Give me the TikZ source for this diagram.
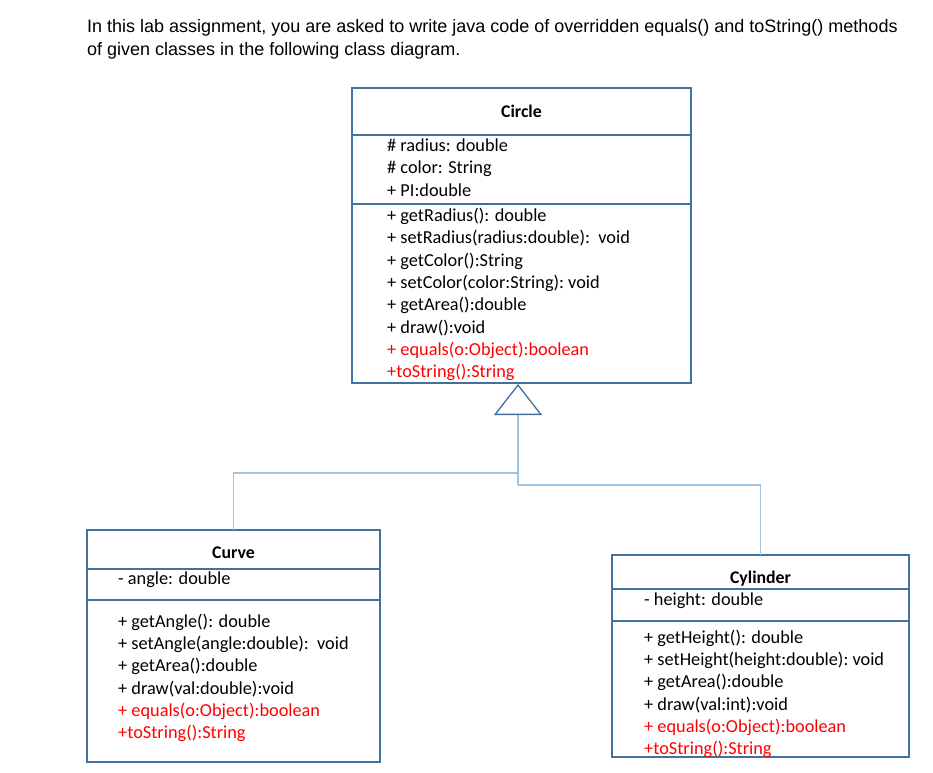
\documentclass[tikz,border=0pt]{standalone}
\usepackage{fontspec}
\setmainfont{Carlito}
\newfontfamily\headfont{Liberation Sans}
\usetikzlibrary{arrows.meta, positioning, calc}
\definecolor{BoxEdge}{HTML}{41719C}
\definecolor{LinkBlue}{HTML}{9DC3E6}
\definecolor{OverRed}{HTML}{FF0000}
\definecolor{TextInk}{HTML}{000000}

\begin{document}
\begin{tikzpicture}[
    x=1pt,
    y=-1pt,
    every node/.style={text=TextInk},
    intro/.style={font=\headfont\fontsize{18}{23}\selectfont, align=left, anchor=north west, inner sep=0pt},
    classhead/.style={draw=BoxEdge, line width=1.3pt, outer sep=0pt, inner sep=0pt, anchor=north west, text depth=0pt, font=\bfseries\fontsize{17.8}{21}\selectfont},
    classpart/.style={draw=BoxEdge, line width=1.3pt, outer sep=0pt, inner sep=0pt, below=0pt of #1},
    members/.style={align=left, inner sep=0pt, font=\fontsize{18.3}{22.3}\selectfont},
    genline/.style={draw=LinkBlue, line width=1.2pt},
    inherit/.style={genline, -{Triangle[open, length=31pt, width=48pt, color=BoxEdge, line width=1.3pt]}}
]

\useasboundingbox (0,0) rectangle (933,772);
\fill[white] (0,0) rectangle (933,772);

\node[intro] (intro) at (87,19)
{In this lab assignment, you are asked to write java code of overridden equals() and toString() methods\\
of given classes in the following class diagram.};

% Circle
\node[classhead, minimum width=339pt, minimum height=47pt] (circleHead) at (352,88) {Circle};
\node[classpart=circleHead, minimum width=339pt, minimum height=69pt] (circleAttrBox) {};
\node[classpart=circleAttrBox, minimum width=339pt, minimum height=179pt] (circleOpBox) {};
\node[members, right=35pt of circleAttrBox.west, yshift=2pt] (circleAttr)
{\# radius: double\\
\# color: String\\
+ PI:double};
\node[members, right=35pt of circleOpBox.west, yshift=-1pt] (circleOps)
{+ getRadius(): double\\
+ setRadius(radius:double):\ \ void\\
+ getColor():String\\
+ setColor(color:String):\ void\\
+ getArea():double\\
+ draw():void\\
\textcolor{OverRed}{+ equals(o:Object):boolean}\\
\textcolor{OverRed}{+toString():String}};

% Curve
\node[classhead, minimum width=293pt, minimum height=39pt, text height=17.5pt] (curveHead) at (87,530) {Curve};
\node[classpart=curveHead, minimum width=293pt, minimum height=31pt] (curveAttrBox) {};
\node[classpart=curveAttrBox, minimum width=293pt, minimum height=162pt] (curveOpBox) {};
\draw[BoxEdge, line width=2.2pt] (curveOpBox.north west) -- (curveOpBox.north east);
\node[members, right=31pt of curveAttrBox.west, yshift=5pt] (curveAttr)
{- angle: double};
\node[members, right=31pt of curveOpBox.west, yshift=3pt] (curveOps)
{+ getAngle(): double\\
+ setAngle(angle:double):\ \ void\\
+ getArea():double\\
+ draw(val:double):void\\
\textcolor{OverRed}{+ equals(o:Object):boolean}\\
\textcolor{OverRed}{+toString():String}};

% Cylinder
\node[classhead, minimum width=297pt, minimum height=34pt, text height=22pt] (cylHead) at (612,555) {Cylinder};
\node[classpart=cylHead, minimum width=297pt, minimum height=32pt] (cylAttrBox) {};
\node[classpart=cylAttrBox, minimum width=297pt, minimum height=136pt] (cylOpBox) {};
\node[members, right=32pt of cylAttrBox.west, yshift=4pt] (cylAttr)
{- height: double};
\node[members, right=32pt of cylOpBox.west, yshift=-5pt] (cylOps)
{+ getHeight(): double\\
+ setHeight(height:double):\ void\\
+ getArea():double\\
+ draw(val:int):void\\
\textcolor{OverRed}{+ equals(o:Object):boolean}\\
\textcolor{OverRed}{+toString():String}};

% generalization
\coordinate (circleFoot) at ($(circleOpBox.south)+(-3.5,1)$);
\coordinate (joinCurve) at ($(circleFoot)+(0,89)$);
\coordinate (joinCyl) at ($(circleFoot)+(0,101)$);
\draw[genline] (curveHead.north) |- (joinCurve);
\draw[genline] (cylHead.north) |- (joinCyl);
\draw[inherit] (joinCyl) -- (circleFoot);

\end{tikzpicture}
\end{document}
